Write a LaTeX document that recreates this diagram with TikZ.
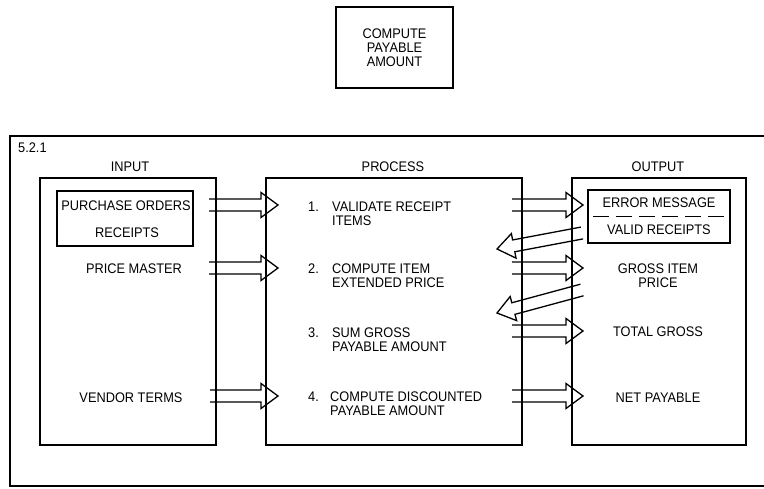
\documentclass[tikz,border=0pt]{standalone}
\usepackage{fontspec}
\setmainfont{Liberation Sans}[FakeStretch=0.92]
\usetikzlibrary{calc}
\newcommand{\hollowarrow}[2]{%
  \path ($(#2)!17pt!(#1)$) coordinate (hb);
  \draw[arrowline] ($(#1)!6pt!90:(#2)$) -- ($(hb)!6pt!90:(#2)$) -- ($(hb)!12.5pt!90:(#2)$)
    -- (#2) -- ($(hb)!12.5pt!-90:(#2)$) -- ($(hb)!6pt!-90:(#2)$) -- ($(#1)!6pt!-90:(#2)$);}
\begin{document}
\begin{tikzpicture}[x=1pt,y=-1pt,
  box/.style={draw, line width=1.9pt, inner sep=0pt, outer sep=0pt},
  frameline/.style={line width=1.9pt},
  arrowline/.style={line width=1.3pt, line join=miter},
  lbl/.style={inner sep=0pt, font=\fontsize{13.9}{14}\selectfont},
  lbll/.style={lbl, align=left},
  lblc/.style={lbl, align=center}]
\useasboundingbox (0,0) rectangle (764,489);
% top box
\node[box, minimum width=117pt, minimum height=81pt] (top) at (394.5,47.5) {};
\node[lblc] (toptxt) at (394.5,48) {COMPUTE\\PAYABLE\\AMOUNT};
% frame
\draw[frameline] (764,136) -- (10,136) -- (10,486) -- (764,486);
\node[lbl, anchor=west] (num) at (18,148) {5.2.1};
% headers
\node[lbl] (hin) at (130,167) {INPUT};
\node[lbl] (hproc) at (393,167) {PROCESS};
\node[lbl] (hout) at (658,167) {OUTPUT};
% main boxes
\node[box, minimum width=176pt, minimum height=267pt] (inbox) at (128,311.5) {};
\node[box, minimum width=256pt, minimum height=267pt] (procbox) at (394,311.5) {};
\node[box, minimum width=174pt, minimum height=267pt] (outbox) at (659,311.5) {};
% input contents
\node[box, minimum width=136pt, minimum height=55pt] (pobox) at (125,218.5) {};
\node[lbl] (po) at (126,206) {PURCHASE ORDERS};
\node[lbl] (rc) at (127,233) {RECEIPTS};
\node[lbl] (pm) at (134,269) {PRICE MASTER};
\node[lbl] (vt) at (131,398) {VENDOR TERMS};
% process contents
\node[lbl, anchor=west] (n1) at (308,207) {1.};
\node[lbll, anchor=west] (p1) at (332,214) {VALIDATE RECEIPT\\ITEMS};
\node[lbl, anchor=west] (n2) at (308,269) {2.};
\node[lbll, anchor=west] (p2) at (332,276) {COMPUTE ITEM\\EXTENDED PRICE};
\node[lbl, anchor=west] (n3) at (308,333) {3.};
\node[lbll, anchor=west] (p3) at (332,340) {SUM GROSS\\PAYABLE AMOUNT};
\node[lbl, anchor=west] (n4) at (308,397) {4.};
\node[lbll, anchor=west] (p4) at (330,404) {COMPUTE DISCOUNTED\\PAYABLE AMOUNT};
% output contents
\node[box, minimum width=142pt, minimum height=53pt] (errbox) at (659,216.5) {};
\draw[line width=1.9pt, dash pattern=on 16pt off 7pt] (errbox.west) ++(5,0) coordinate (dl) -- ($(errbox.east)+(-4,0)$) coordinate (dr);
\node[lbl] (em) at (659,203) {ERROR MESSAGE};
\node[lbl] (vr) at (659,230) {VALID RECEIPTS};
\node[lblc] (gip) at (658,275.5) {GROSS ITEM\\PRICE};
\node[lbl] (tg) at (658,332) {TOTAL GROSS};
\node[lbl] (np) at (658,398) {NET PAYABLE};
% arrow end points
\coordinate (a1s) at (209,205); \coordinate (a1t) at (278,205);
\coordinate (a2s) at (209,268); \coordinate (a2t) at (278,268);
\coordinate (a3s) at (210,396); \coordinate (a3t) at (278,396);
\coordinate (b1s) at (512,205); \coordinate (b1t) at (583,205);
\coordinate (b2s) at (512,268); \coordinate (b2t) at (583,268);
\coordinate (b3s) at (512,331); \coordinate (b3t) at (583,331);
\coordinate (b4s) at (512,396); \coordinate (b4t) at (583,396);
\coordinate (c1s) at (582,233); \coordinate (c1t) at (497,249);
\coordinate (c2s) at (582,290); \coordinate (c2t) at (497,313);
\hollowarrow{a1s}{a1t}
\hollowarrow{a2s}{a2t}
\hollowarrow{a3s}{a3t}
\hollowarrow{b1s}{b1t}
\hollowarrow{b2s}{b2t}
\hollowarrow{b3s}{b3t}
\hollowarrow{b4s}{b4t}
\hollowarrow{c1s}{c1t}
\hollowarrow{c2s}{c2t}
\end{tikzpicture}
\end{document}
